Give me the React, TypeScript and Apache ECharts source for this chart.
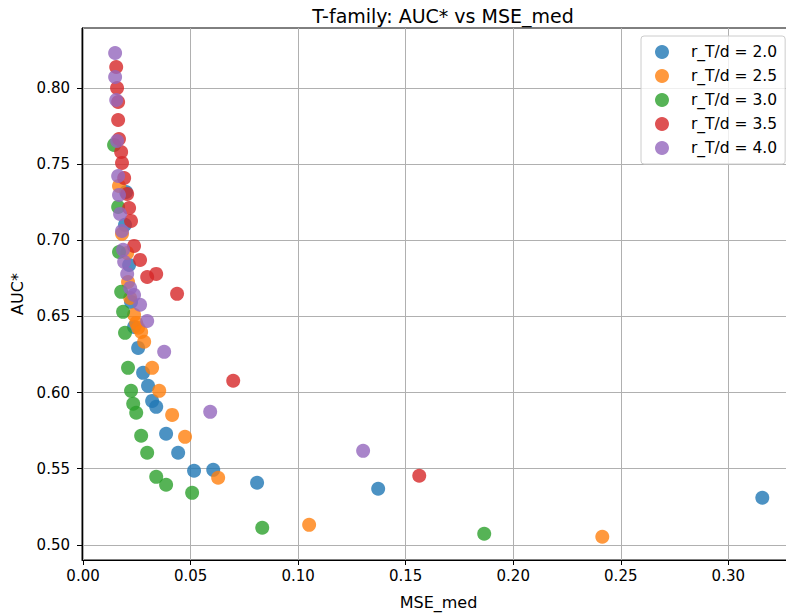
import React, { useEffect, useRef } from "react";
import * as echarts from "echarts";

const seriesNames = ["r_T/d = 2.0", "r_T/d = 2.5", "r_T/d = 3.0", "r_T/d = 3.5", "r_T/d = 4.0"];
const colors = ["#1f77b4", "#ff7f0e", "#2ca02c", "#d62728", "#9467bd"];

const blue: [number, number][] = [
  [0.0200, 0.7317], [0.0195, 0.7101], [0.0214, 0.6838], [0.0223, 0.6595], [0.0237, 0.6431],
  [0.0256, 0.6293], [0.0279, 0.6129], [0.0302, 0.6044], [0.0321, 0.5945], [0.0340, 0.5906],
  [0.0386, 0.5729], [0.0442, 0.5604], [0.0516, 0.5486], [0.0605, 0.5492], [0.0809, 0.5407],
  [0.1372, 0.5368], [0.3158, 0.5309],
];
const orange: [number, number][] = [
  [0.0167, 0.7357], [0.0181, 0.7042], [0.0205, 0.6917], [0.0209, 0.6726], [0.0219, 0.6621],
  [0.0237, 0.6510], [0.0247, 0.6457], [0.0256, 0.6425], [0.0270, 0.6398], [0.0284, 0.6333],
  [0.0321, 0.6162], [0.0354, 0.6011], [0.0414, 0.5853], [0.0474, 0.5709], [0.0628, 0.5440],
  [0.1051, 0.5131], [0.2414, 0.5053],
];
const green: [number, number][] = [
  [0.0144, 0.7626], [0.0163, 0.7219], [0.0167, 0.6923], [0.0177, 0.6661], [0.0186, 0.6530],
  [0.0195, 0.6392], [0.0209, 0.6162], [0.0223, 0.6011], [0.0233, 0.5926], [0.0247, 0.5867],
  [0.0270, 0.5716], [0.0298, 0.5604], [0.0340, 0.5446], [0.0386, 0.5394], [0.0507, 0.5341],
  [0.0833, 0.5112], [0.1865, 0.5072],
];
const red: [number, number][] = [
  [0.0154, 0.8138], [0.0158, 0.8000], [0.0163, 0.7908], [0.0163, 0.7790], [0.0167, 0.7665],
  [0.0177, 0.7580], [0.0181, 0.7508], [0.0191, 0.7409], [0.0205, 0.7304], [0.0214, 0.7212],
  [0.0223, 0.7127], [0.0237, 0.6963], [0.0265, 0.6871], [0.0298, 0.6759], [0.0340, 0.6779],
  [0.0437, 0.6648], [0.0698, 0.6077], [0.1563, 0.5453],
];
const purple: [number, number][] = [
  [0.0149, 0.8230], [0.0149, 0.8072], [0.0154, 0.7921], [0.0158, 0.7652], [0.0163, 0.7422],
  [0.0167, 0.7298], [0.0172, 0.7173], [0.0181, 0.7061], [0.0186, 0.6937], [0.0191, 0.6858],
  [0.0205, 0.6779], [0.0219, 0.6687], [0.0237, 0.6641], [0.0265, 0.6576], [0.0298, 0.6470],
  [0.0377, 0.6267], [0.0591, 0.5873], [0.1302, 0.5617],
];

const xTicks = [0, 0.05, 0.1, 0.15, 0.2, 0.25, 0.3];
const yTicks = [0.5, 0.55, 0.6, 0.65, 0.7, 0.75, 0.8];

const allData = [blue, orange, green, red, purple];
const FONT = "DejaVu Sans";

export default function App() {
  const ref = useRef<HTMLDivElement>(null);
  useEffect(() => {
    if (!ref.current) return;
    const chart = echarts.init(ref.current, undefined, { renderer: "svg" });
    chart.setOption({
      animation: false,
      backgroundColor: "#ffffff",
      title: {
        text: "T-family: AUC* vs MSE_med",
        left: 438,
        top: 1,
        textAlign: "center",
        textStyle: { fontFamily: FONT, fontSize: 19, fontWeight: "normal", color: "#000" },
      },
      legend: {
        orient: "vertical",
        left: 641,
        top: 36,
        padding: [8, 8, 8, 14],
        itemWidth: 14,
        itemHeight: 14,
        itemGap: 8,
        icon: "circle",
        backgroundColor: "rgba(255,255,255,0.8)",
        borderColor: "#cccccc",
        borderWidth: 1,
        borderRadius: 3,
        textStyle: { fontFamily: FONT, fontSize: 15.5, color: "#000", padding: [0, 0, 0, 17] },
        data: seriesNames,
      },
      grid: {
        left: 82,
        top: 28,
        right: -9,
        bottom: 53,
        outerBoundsMode: "none",
        containLabel: false,
        show: true,
        borderColor: "#000",
        borderWidth: 1,
        backgroundColor: "transparent",
      },
      xAxis: {
        type: "value",
        min: -0.0005,
        max: 0.331,
        name: "MSE_med",
        nameLocation: "middle",
        nameGap: 34,
        nameTextStyle: { fontFamily: FONT, fontSize: 16, color: "#000" },
        axisLine: { show: true, onZero: false, lineStyle: { color: "#000", width: 1 } },
        axisTick: { show: true, length: 5, lineStyle: { color: "#000" }, customValues: xTicks },
        axisLabel: {
          fontFamily: FONT,
          fontSize: 15,
          color: "#000",
          margin: 8,
          customValues: xTicks,
          formatter: (v: number) => v.toFixed(2),
        },
        splitLine: { show: true, lineStyle: { color: "#b0b0b0", width: 1 } },
      },
      yAxis: {
        type: "value",
        min: 0.49,
        max: 0.8394,
        name: "AUC*",
        nameLocation: "middle",
        nameGap: 52,
        nameRotate: 90,
        nameTextStyle: { fontFamily: FONT, fontSize: 16, color: "#000" },
        axisLine: { show: true, onZero: false, lineStyle: { color: "#000", width: 1 } },
        axisTick: { show: true, length: 5, lineStyle: { color: "#000" }, customValues: yTicks },
        axisLabel: {
          fontFamily: FONT,
          fontSize: 15,
          color: "#000",
          margin: 12,
          customValues: yTicks,
          formatter: (v: number) => v.toFixed(2),
        },
        splitLine: { show: true, lineStyle: { color: "#b0b0b0", width: 1 } },
      },
      series: allData.map((d, i) => ({
        name: seriesNames[i],
        type: "scatter",
        data: d,
        symbol: "circle",
        symbolSize: 14,
        itemStyle: { color: colors[i], opacity: 0.8 },
        emphasis: { disabled: true },
        z: 2 + i,
      })),
    });
    return () => chart.dispose();
  }, []);
  return <div ref={ref} style={{ width: 786, height: 613, position: "absolute", left: 0, top: 0 }} />;
}
